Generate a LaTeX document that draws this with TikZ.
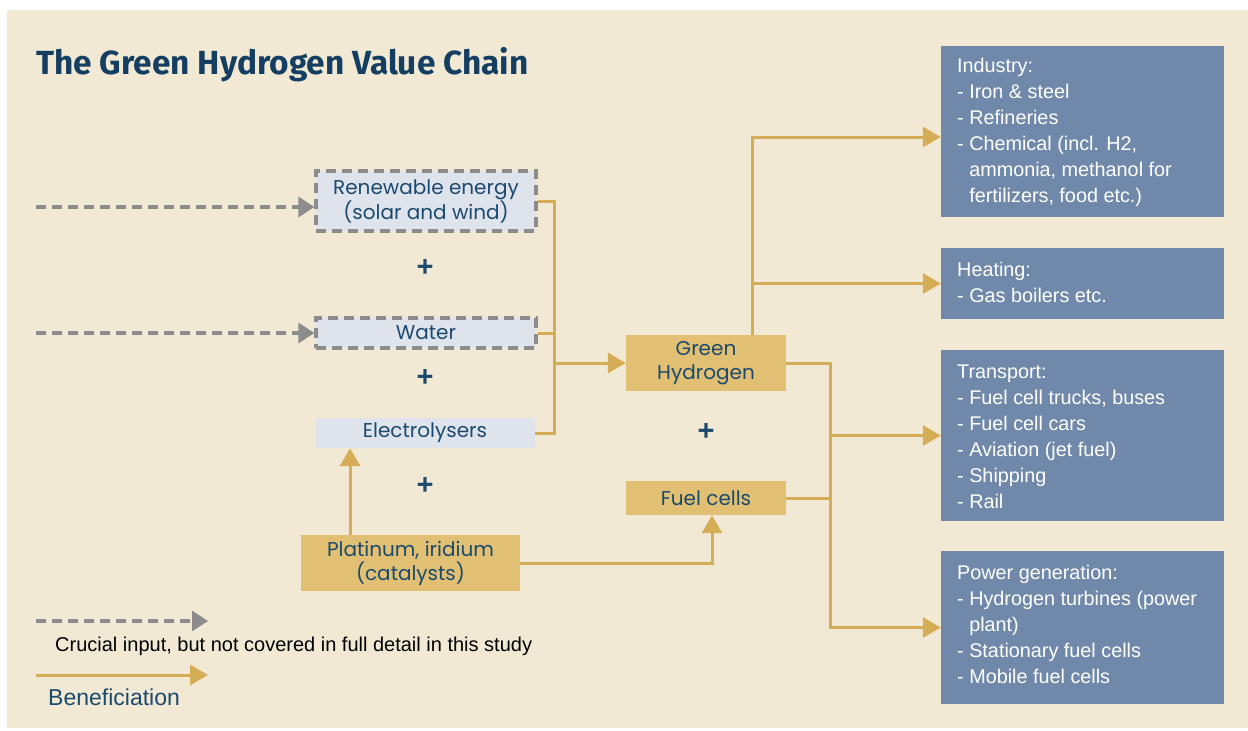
\documentclass[tikz,border=0pt]{standalone}
\usepackage{fontspec}
\setmainfont{Liberation Sans}
\newfontfamily\boxfont{Poppins}
\newfontfamily\titlefont{Fira Sans}
\usetikzlibrary{arrows.meta}

\definecolor{paper}{HTML}{F2E9D4}
\definecolor{goldfill}{HTML}{E1BF73}
\definecolor{goldline}{HTML}{D6AD57}
\definecolor{paleblue}{HTML}{DEE3EC}
\definecolor{slate}{HTML}{7089AA}
\definecolor{navy}{HTML}{1B4A6E}
\definecolor{titleblue}{HTML}{143F63}
\definecolor{dashgray}{HTML}{8C8C8C}

\tikzset{
  inbox/.style={fill=paleblue, draw=dashgray, line width=3.2pt,
    dash pattern=on 10pt off 6pt, inner sep=0pt, font=\boxfont\fontsize{20}{24}\selectfont,
    text=navy, align=center},
  plainbox/.style={fill=paleblue, inner sep=0pt, font=\boxfont\fontsize{20}{24}\selectfont,
    text=navy, align=center},
  goldbox/.style={fill=goldfill, inner sep=0pt, font=\boxfont\fontsize{20}{24}\selectfont,
    text=navy, align=center},
  usebox/.style={fill=slate, inner sep=0pt, minimum width=283pt},
  usetext/.style={anchor=north west, inner sep=0pt, text=white, align=left,
    font=\fontsize{19.8}{26}\selectfont},
  plussign/.style={text=navy, inner sep=0pt, font=\bfseries\fontsize{29}{29}\selectfont},
  goldlink/.style={draw=goldline, line width=3pt},
  goldarrow/.style={goldlink, -{Triangle[length=18pt,width=20pt]}},
  grayarrow/.style={draw=dashgray, line width=3.2pt, dash pattern=on 10pt off 6pt,
    -{Triangle[length=16pt,width=20pt]}},
}

\begin{document}
\begin{tikzpicture}[x=1pt,y=-1pt]
\useasboundingbox (0,0) rectangle (1248,731);
\fill[white] (0,0) rectangle (1248,731);
\fill[paper] (7,10) rectangle (1248,728);

% title
\node[anchor=base west, inner sep=0pt, text=titleblue,
      font=\titlefont\bfseries\fontsize{33.4}{36}\selectfont] (title) at (36,74)
  {The Green Hydrogen Value Chain};

% inputs
\node[inbox, minimum width=220pt, minimum height=60pt] (ren) at (426,201)
  {Renewable energy\\(solar and wind)};
\node[inbox, minimum width=220pt, minimum height=30pt] (water) at (426,333) {Water};
\node[plainbox, minimum width=219pt, minimum height=30pt] (elec) at (425,433) {Electrolysers};
\node[goldbox, minimum width=219pt, minimum height=56pt] (plat) at (410.5,563)
  {Platinum, iridium\\(catalysts)};

\node[plussign] (plus1) at (425,268) {+};
\node[plussign] (plus2) at (425,378) {+};
\node[plussign] (plus3) at (425,486) {+};

% products
\node[goldbox, minimum width=160pt, minimum height=56pt] (gh) at (706,363)
  {Green\\Hydrogen};
\node[goldbox, minimum width=160pt, minimum height=34pt] (fc) at (706,498) {Fuel cells};
\node[plussign] (plus4) at (706,432) {+};

% end uses
\node[usebox, minimum height=171pt] (ind) at (1082.5,131.5) {};
\node[usebox, minimum height=71pt] (heat) at (1082.5,283.5) {};
\node[usebox, minimum height=171pt] (trans) at (1082.5,435.5) {};
\node[usebox, minimum height=153pt] (pow) at (1082.5,627.5) {};

\node[usetext] (indtxt) at (957,58) {Industry:\\- Iron \& steel\\- Refineries\\- Chemical (incl. H2,\\\phantom{- }ammonia, methanol for\\\phantom{- }fertilizers, food etc.)};
\node[usetext] (heattxt) at (957,262) {Heating:\\- Gas boilers etc.};
\node[usetext] (transtxt) at (957,365) {Transport:\\- Fuel cell trucks, buses\\- Fuel cell cars\\- Aviation (jet fuel)\\- Shipping\\- Rail};
\node[usetext] (powtxt) at (957,565) {Power generation:\\- Hydrogen turbines (power\\\phantom{- }plant)\\- Stationary fuel cells\\- Mobile fuel cells};

% junction points
\coordinate (j1) at (554,363);
\coordinate (elecX) at (350,0);
\coordinate (fcX) at (712,0);
\coordinate (ghX) at (752,0);
\coordinate (bus) at (830,0);
\coordinate (in1) at (36,207);
\coordinate (in2) at (36,333);

% dashed inputs
\draw[grayarrow] (in1) -- (in1 -| ren.west);
\draw[grayarrow] (in2) -- (in2 -| water.west);

% electrolysis links
\draw[goldlink] (ren.east) -| (j1);
\draw[goldlink] (elec.east) -| (j1);
\draw[goldlink] (water.east) -- (water.east -| j1);
\draw[goldarrow] (j1) -- (gh.west);

% catalysts
\draw[goldarrow] (plat.north -| elecX) -- (elec.south -| elecX);
\draw[goldarrow] (plat.east) -| (fc.south -| fcX);

% hydrogen to end uses
\draw[goldarrow] (gh.north -| ghX) |- ([yshift=-5.5pt]ind.west);
\draw[goldarrow] (ghX |- heat.west) -- (heat.west);
\draw[goldarrow] (gh.east) -| (bus |- pow.west) -- (pow.west);
\draw[goldlink] (fc.east) -- (fc.east -| bus);
\draw[goldarrow] (bus |- trans.west) -- (trans.west);

% legend
\coordinate (lg1a) at (36,621);
\coordinate (lg1b) at (208,621);
\coordinate (lg2a) at (36,675);
\coordinate (lg2b) at (208,675);
\draw[grayarrow] (lg1a) -- (lg1b);
\node[anchor=base west, inner sep=0pt, text=black, font=\fontsize{20}{22}\selectfont]
  (lgtxt1) at (55,651) {Crucial input, but not covered in full detail in this study};
\draw[goldarrow] (lg2a) -- (lg2b);
\node[anchor=base west, inner sep=0pt, text=navy, font=\fontsize{23}{26}\selectfont]
  (lgtxt2) at (48,705) {Beneficiation};
\end{tikzpicture}
\end{document}
